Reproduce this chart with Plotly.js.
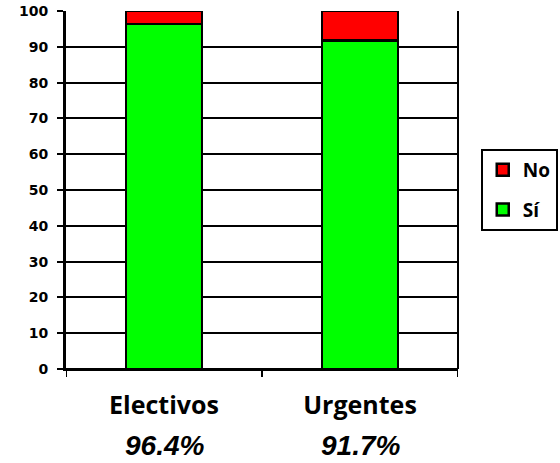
<!DOCTYPE html>
<html><head><meta charset="utf-8">
<script src="https://cdn.plot.ly/plotly-3.0.1.min.js"></script>
<style>html,body{margin:0;padding:0;background:#fff}#chart{width:560px;height:463px}</style>
</head><body><div id="chart"></div>
<script>
const categories = ["Electivos", "Urgentes"];
const siValues = [96.4, 91.7];
const noValues = [3.6, 8.3];
const pctLabels = ["96.4%", "91.7%"];
const yTicks = [0, 10, 20, 30, 40, 50, 60, 70, 80, 90, 100];

const traces = [
  {type: 'bar', name: 'Sí', x: categories, y: siValues, legendgroup: 'si', legendrank: 2,
   marker: {color: '#00ff00', line: {color: '#000', width: 2.5}}, width: 0.39},
  {type: 'bar', name: 'No', x: categories, y: noValues, legendgroup: 'no', legendrank: 1,
   marker: {color: '#ff0000', line: {color: '#000', width: 2.5}}, width: 0.39}
];

const annotations = categories.map((c, i) => ({
  x: c, xref: 'x', y: 0, yref: 'paper', yshift: -76, yanchor: 'middle',
  text: pctLabels[i], showarrow: false,
  font: {family: 'Liberation Sans, Arial, sans-serif', size: 28, color: '#000', weight: 'bold', style: 'italic'}
}));

const layout = {
  width: 560, height: 463,
  margin: {l: 66, r: 102, t: 11, b: 94, autoexpand: false},
  barmode: 'stack',
  paper_bgcolor: '#fff', plot_bgcolor: '#fff',
  showlegend: true,
  legend: {x: 1.058, xanchor: 'left', y: 0.5, yanchor: 'middle', traceorder: 'grouped',
    tracegroupgap: 12,
    bordercolor: '#000', borderwidth: 2, bgcolor: '#fff',
    font: {family: 'Open Sans, sans-serif', size: 19, color: '#000', weight: 'bold'}},
  xaxis: {range: [-0.5, 1.5], showgrid: false, zeroline: false,
    showline: true, linecolor: '#000', linewidth: 2, mirror: false,
    ticks: '', tickmode: 'array', tickvals: categories, ticklabelstandoff: 13,
    tickfont: {family: 'Open Sans, sans-serif', size: 25, color: '#000', weight: 'bold'},
    automargin: false, fixedrange: true},
  yaxis: {range: [0, 100], tickmode: 'array', tickvals: yTicks,
    showgrid: true, gridcolor: '#000', gridwidth: 2,
    zeroline: true, zerolinecolor: '#000', zerolinewidth: 3,
    showline: true, linecolor: '#000', linewidth: 3,
    ticks: 'outside', ticklen: 6, tickwidth: 2, tickcolor: '#000', ticklabelstandoff: 6,
    tickfont: {family: 'DejaVu Sans, Verdana, sans-serif', size: 14, color: '#000', weight: 'bold'},
    automargin: false, fixedrange: true},
  shapes: [
    {type: 'line', xref: 'paper', yref: 'paper', x0: 1, x1: 1, y0: 0, y1: 1, line: {color: '#000', width: 2}},
    {type: 'line', xref: 'x', yref: 'paper', x0: -0.5, x1: -0.5, y0: 0, y1: -0.022, line: {color: '#000', width: 2}},
    {type: 'line', xref: 'x', yref: 'paper', x0: 0.5, x1: 0.5, y0: 0, y1: -0.022, line: {color: '#000', width: 2}},
    {type: 'line', xref: 'x', yref: 'paper', x0: 1.5, x1: 1.5, y0: 0, y1: -0.022, line: {color: '#000', width: 2}}
  ],
  annotations: annotations
};

Plotly.newPlot('chart', traces, layout, {displayModeBar: false, staticPlot: true});
</script></body></html>
